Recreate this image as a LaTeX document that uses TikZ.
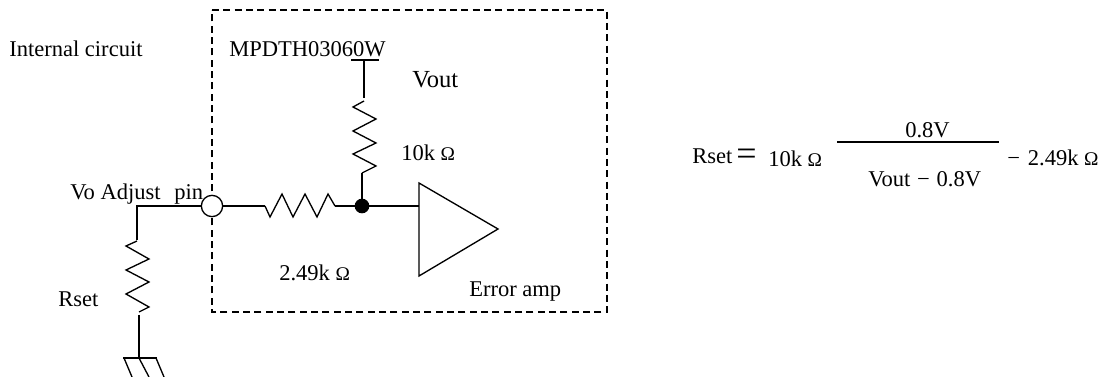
\documentclass[tikz,border=0pt]{standalone}
\usepackage{fontspec}
\setmainfont{Liberation Serif}
\newcommand{\ohmsign}{{\fontsize{14.5pt}{16pt}\selectfont Ω}}
\tikzset{
  wire/.style={black,line width=1pt},
  boxline/.style={black,line width=1.4pt,dash pattern=on 5.3pt off 3.2pt},
  lbl/.style={inner sep=0pt,anchor=base west,font=\fontsize{16.9pt}{18pt}\selectfont},
  pinnode/.style={circle,draw=black,fill=white,line width=1pt,inner sep=0pt,minimum size=16pt},
  dotnode/.style={circle,fill=black,inner sep=0pt,minimum size=11pt}
}
\begin{document}
\begin{tikzpicture}[x=0.75pt,y=-0.75pt]
  \useasboundingbox (0,0) rectangle (1102,377);
  % dashed frame
  \draw[boxline] (212,10) -- (607,10) -- (607,312) -- (212,312) -- cycle;

  \coordinate (corner) at (137,206);
  \coordinate (rsetin) at (137,240);
  \coordinate (rsetout) at (139,315);
  \coordinate (gnd) at (139,358);
  \coordinate (rhin) at (265,206);
  \coordinate (rhout) at (335,206);
  \coordinate (top) at (364,60);
  \coordinate (rvin) at (364,98);
  \coordinate (rvout) at (362,173);
  \coordinate (ampa) at (419,183);
  \coordinate (ampb) at (419,276);
  \coordinate (ampc) at (498,229);
  \coordinate (ampin) at (419,206);

  % wires
  \draw[wire] (212,206) -- (corner) -- (rsetin);
  \draw[wire] (rsetout) -- (gnd);
  \draw[wire] (212,206) -- (rhin);
  \draw[wire] (rhout) -- (ampin);
  \draw[wire] (top) -- (rvin);
  \draw[wire] (rvout) -- (362,206);
  \draw[wire] (ampa) -- (ampb) -- (ampc) -- cycle;

  % resistors
  \draw[wire] (137,241) -- (126,246) -- (149,259) -- (126,270) -- (149,282) -- (126,294) -- (149,307) -- (139,312);
  \draw[wire] (rhin) -- (270,217) -- (282,194) -- (293,217) -- (305,194) -- (317,217) -- (328,194) -- (rhout);
  \draw[wire] (364,101) -- (353,107) -- (376,119) -- (353,131) -- (376,143) -- (353,154) -- (376,166) -- (rvout);

  % ground and supply
  \draw[wire] (123,358) -- (157,358);
  \draw[wire] (124,358) -- (132,377);
  \draw[wire] (gnd) -- (149,377);
  \draw[wire] (156,358) -- (164,377);
  \draw[wire] (351,60) -- (379,60);

  \node[pinnode] (pin) at (212,206) {};
  \node[dotnode] (junc) at (362,206) {};

  % labels
  \node[lbl] (intc) at (9,57) {Internal circuit};
  \node[lbl] (part) at (229,57) {MPDTH03060W};
  \node[lbl,font=\fontsize{18.4pt}{20pt}\selectfont] (vout) at (412,88) {Vout};
  \node[lbl] (rten) at (401,161) {10k \ohmsign};
  \node[lbl] (rtwo) at (279,281) {2.49k \ohmsign};
  \node[lbl] (adj) at (70,200) {Vo Adjust};
  \node[lbl] (pinl) at (174,200) {pin};
  \node[lbl] (rset) at (58,306) {Rset};
  \node[lbl] (err) at (469,297) {Error amp};

  % formula
  \node[lbl] (frset) at (692,164) {Rset};
  \node[lbl,font=\fontsize{27pt}{27pt}\selectfont] (feq) at (736,166) {=};
  \node[lbl] (ften) at (768,167) {10k \ohmsign};
  \coordinate (fa) at (837,142);
  \coordinate (fb) at (999,142);
  \draw[black,line width=1.2pt] (fa) -- (fb);
  \node[lbl] (fnum) at (905,138) {0.8V};
  \node[lbl] (fden) at (868,187) {Vout\hspace{0.3em}−\hspace{0.3em}0.8V};
  \node[lbl] (ftwo) at (1007,166) {−\hspace{0.35em}2.49k \ohmsign};
\end{tikzpicture}
\end{document}
